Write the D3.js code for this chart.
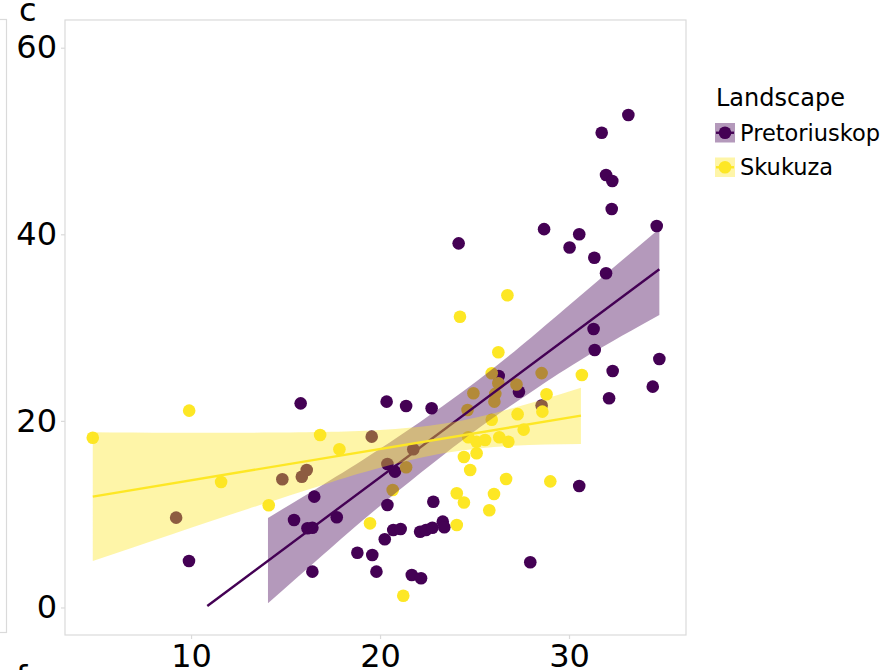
<!DOCTYPE html>
<html>
<head>
<meta charset="utf-8">
<script src="https://cdn.jsdelivr.net/npm/d3@7"></script>
<style>
  html, body { margin: 0; padding: 0; background: #ffffff; }
  svg { display: block; font-family: "DejaVu Sans", Verdana, sans-serif; }
</style>
</head>
<body>
<svg id="chart" width="889" height="670"></svg>
<script>
// ---------------- data ----------------
const landscapes = ["Pretoriuskop", "Skukuza"];
const landscapeColors = ["#440154", "#FDE725"];

const pretoriuskopX = [9.89, 9.21, 14.83, 15.80, 20.35, 21.38, 22.73, 19.56, 21.76, 20.39,
  20.79, 15.86, 16.12, 16.52, 20.39, 22.82, 15.45, 17.71, 16.16, 16.42,
  20.70, 21.09, 22.12, 22.43, 22.77, 23.32, 23.40, 20.25, 18.80, 19.59,
  16.42, 19.81, 21.68, 22.17, 24.16, 28.68, 30.54, 30.03, 31.34, 31.30,
  31.36, 26.28, 27.35, 28.55, 30.54, 27.95, 33.14, 31.73, 31.96, 32.29,
  32.26, 34.64, 31.96, 34.78, 32.31, 34.43, 32.12];
const pretoriuskopY = [4.98, 9.63, 13.74, 21.88, 22.06, 21.60, 21.35, 18.31, 16.96, 15.38,
  14.56, 14.02, 14.74, 11.88, 10.99, 11.34, 9.38, 9.67, 8.49, 8.55,
  8.31, 8.41, 8.12, 8.31, 8.55, 9.20, 8.60, 7.31, 5.87, 5.63,
  3.84, 3.84, 3.48, 3.13, 39.03, 40.55, 40.00, 38.58, 37.49, 29.85,
  27.60, 24.81, 23.13, 21.65, 13.02, 4.84, 52.79, 50.89, 46.36, 45.71,
  42.71, 40.89, 35.82, 26.63, 25.35, 23.67, 22.42];

const skukuzaX = [9.90, 4.80, 11.59, 14.11, 16.83, 17.85, 21.38, 20.67, 24.06, 19.47,
  24.06, 21.23, 24.23, 26.74, 26.26, 25.91, 26.26, 24.94, 26.10, 26.05,
  27.22, 28.55, 28.81, 28.59, 24.63, 27.28, 25.91, 24.67, 25.11, 25.56,
  26.31, 26.79, 27.60, 24.44, 25.11, 24.77, 26.67, 29.01, 24.44, 26.03,
  25.78, 30.68];
const skukuzaY = [21.10, 18.20, 13.45, 10.95, 18.49, 16.96, 15.03, 12.59, 12.24, 9.02,
  8.84, 1.26, 31.17, 33.46, 27.35, 25.10, 24.03, 22.96, 22.90, 22.06,
  23.90, 25.12, 22.85, 20.99, 21.17, 20.72, 20.13, 18.24, 17.77, 17.95,
  18.24, 17.77, 19.06, 16.13, 16.53, 14.74, 13.77, 13.52, 11.25, 12.16,
  10.42, 24.92];

// fitted lines
const pretoriuskopFitX = [10.86, 34.78];
const pretoriuskopFitY = [0.16, 36.25];
const skukuzaFitX = [4.80, 30.63];
const skukuzaFitY = [11.88, 20.56];

// confidence bands
const pretoriuskopBandX  = [14.07, 17, 20, 24.4, 28, 31, 34.78];
const pretoriuskopBandLo = [0.45, 5.67, 10.89, 17.99, 23.10, 27.00, 31.35];
const pretoriuskopBandHi = [9.60, 13.19, 17.01, 23.19, 28.94, 34.10, 40.60];
const skukuzaBandX  = [4.80, 9, 13, 17, 20, 23.5, 27, 30.63];
const skukuzaBandLo = [4.98, 7.85, 10.55, 13.16, 14.97, 16.58, 17.33, 17.52];
const skukuzaBandHi = [18.78, 18.73, 18.73, 18.80, 19.01, 19.74, 21.35, 23.56];

const yTicks = [0, 20, 40, 60];
const xTicks = [10, 20, 30];

// ---------------- layout ----------------
const svg = d3.select("#chart");
const panel = { left: 65, right: 686, top: 20, bottom: 635 };

const x = d3.scaleLinear().domain([3.33, 36.19]).range([panel.left, panel.right]);
const y = d3.scaleLinear().domain([-2.95, 62.97]).range([panel.bottom, panel.top]);

const borderColor = "#dadada";

// neighbouring panel edge (left) and panel letters
svg.append("rect").attr("x", -10).attr("y", 19.5).attr("width", 16.5).attr("height", 613)
  .attr("fill", "none").attr("stroke", borderColor).attr("stroke-width", 1.2);
svg.append("text").attr("x", 19).attr("y", 21).attr("font-size", 32).attr("fill", "#000").text("c");
svg.append("text").attr("x", 16).attr("y", 688).attr("font-size", 32).attr("fill", "#000").text("f");

// panel background
svg.append("rect").attr("x", panel.left).attr("y", panel.top)
  .attr("width", panel.right - panel.left).attr("height", panel.bottom - panel.top)
  .attr("fill", "#ffffff");

const clip = svg.append("clipPath").attr("id", "clip").append("rect")
  .attr("x", panel.left).attr("y", panel.top)
  .attr("width", panel.right - panel.left).attr("height", panel.bottom - panel.top);

const plot = svg.append("g").attr("clip-path", "url(#clip)");

// points: purple first, then yellow
const pData = pretoriuskopX.map((v, i) => ({ x: v, y: pretoriuskopY[i] }));
const sData = skukuzaX.map((v, i) => ({ x: v, y: skukuzaY[i] }));
const R = 6.3;
plot.append("g").selectAll("circle").data(pData).join("circle")
  .attr("cx", d => x(d.x)).attr("cy", d => y(d.y)).attr("r", R).attr("fill", landscapeColors[0]);
plot.append("g").selectAll("circle").data(sData).join("circle")
  .attr("cx", d => x(d.x)).attr("cy", d => y(d.y)).attr("r", R).attr("fill", landscapeColors[1]);

function band(bx, lo, hi) {
  return d3.area().curve(d3.curveNatural)
    .x(d => x(d.x)).y0(d => y(d.lo)).y1(d => y(d.hi))(bx.map((v, i) => ({ x: v, lo: lo[i], hi: hi[i] })));
}
const line = d3.line().x(d => x(d[0])).y(d => y(d[1]));

// Pretoriuskop ribbon + line
plot.append("path").attr("d", band(pretoriuskopBandX, pretoriuskopBandLo, pretoriuskopBandHi))
  .attr("fill", landscapeColors[0]).attr("fill-opacity", 0.4);
plot.append("path").attr("d", line(pretoriuskopFitX.map((v, i) => [v, pretoriuskopFitY[i]])))
  .attr("fill", "none").attr("stroke", landscapeColors[0]).attr("stroke-width", 2.4);
// Skukuza ribbon + line
plot.append("path").attr("d", band(skukuzaBandX, skukuzaBandLo, skukuzaBandHi))
  .attr("fill", landscapeColors[1]).attr("fill-opacity", 0.4);
plot.append("path").attr("d", line(skukuzaFitX.map((v, i) => [v, skukuzaFitY[i]])))
  .attr("fill", "none").attr("stroke", landscapeColors[1]).attr("stroke-width", 2.4);

// panel border
svg.append("rect").attr("x", panel.left).attr("y", panel.top)
  .attr("width", panel.right - panel.left).attr("height", panel.bottom - panel.top)
  .attr("fill", "none").attr("stroke", borderColor).attr("stroke-width", 1.2);

// axes
const yAxis = svg.append("g").attr("transform", `translate(${panel.left},0)`)
  .call(d3.axisLeft(y).tickValues(yTicks).tickSize(4).tickPadding(4));
const xAxis = svg.append("g").attr("transform", `translate(0,${panel.bottom})`)
  .call(d3.axisBottom(x).tickValues(xTicks).tickSize(4).tickPadding(5));
[yAxis, xAxis].forEach(a => {
  a.select(".domain").remove();
  a.selectAll(".tick line").attr("stroke", borderColor).attr("stroke-width", 1.2);
  a.selectAll(".tick text").attr("font-size", 32).attr("fill", "#000")
    .attr("font-family", "'DejaVu Sans', Verdana, sans-serif");
});

// legend
const legend = svg.append("g");
legend.append("text").attr("x", 716).attr("y", 106).attr("font-size", 24).attr("fill", "#000").text("Landscape");
const keyY = [123, 157.5];
landscapes.forEach((name, i) => {
  const g = legend.append("g").attr("transform", `translate(715,${keyY[i]})`);
  g.append("rect").attr("width", 20).attr("height", 19.5)
    .attr("fill", landscapeColors[i]).attr("fill-opacity", 0.4);
  g.append("line").attr("x1", 1).attr("x2", 19).attr("y1", 9.75).attr("y2", 9.75)
    .attr("stroke", landscapeColors[i]).attr("stroke-width", 2.4);
  g.append("circle").attr("cx", 10).attr("cy", 9.75).attr("r", R).attr("fill", landscapeColors[i]);
  g.append("text").attr("x", 25).attr("y", 17.5).attr("font-size", 22.5).attr("fill", "#000").text(name);
});
</script>
</body>
</html>
